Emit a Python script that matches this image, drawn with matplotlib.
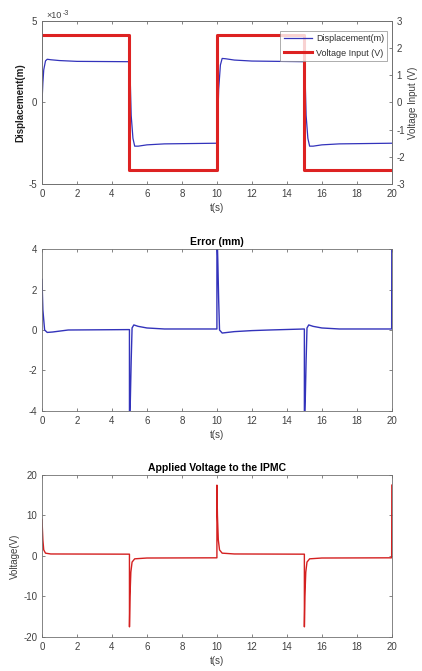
import matplotlib.pyplot as plt
from matplotlib.ticker import FuncFormatter

plt.rcParams['font.family'] = ['Liberation Sans', 'DejaVu Sans']
plt.rcParams['font.size'] = 7
plt.rcParams['axes.unicode_minus'] = False

# displacement response (m x 1e-3)
t_disp = [0, 0.05, 0.1, 0.2, 0.3, 0.5, 1, 2, 5,
          5.05, 5.1, 5.2, 5.3, 5.5, 6, 7, 10,
          10.05, 10.1, 10.2, 10.3, 10.5, 11, 12, 15,
          15.05, 15.1, 15.2, 15.3, 15.5, 16, 17, 20]
disp_mm = [0, 1.2, 2.0, 2.55, 2.65, 2.62, 2.57, 2.52, 2.5,
           1.2, -0.8, -2.2, -2.68, -2.68, -2.6, -2.54, -2.5,
           -1.2, 0.8, 2.3, 2.7, 2.68, 2.6, 2.54, 2.5,
           1.2, -0.8, -2.2, -2.68, -2.68, -2.6, -2.54, -2.5]

# square voltage input (V)
t_in = [0, 5, 5, 10, 10, 15, 15, 20]
v_in = [2.5, 2.5, -2.5, -2.5, 2.5, 2.5, -2.5, -2.5]

# tracking error (mm)
t_err = [0, 0.05, 0.15, 0.3, 0.6, 1.5, 5,
         5.001, 5.05, 5.1, 5.15, 5.25, 5.5, 6, 7, 10,
         10.001, 10.05, 10.1, 10.15, 10.3, 10.6, 11, 12, 13, 15,
         15.001, 15.05, 15.1, 15.15, 15.25, 15.5, 16, 17, 19.99, 20]
err = [2.5, 1.0, 0.0, -0.12, -0.1, 0.0, 0.02,
       -5.0, -3.5, -1.5, 0.1, 0.25, 0.18, 0.1, 0.05, 0.05,
       5.0, 3.5, 1.5, 0.0, -0.15, -0.12, -0.08, -0.03, 0.0, 0.05,
       -5.0, -3.5, -1.5, 0.1, 0.25, 0.18, 0.1, 0.05, 0.05, 5.0]

# applied voltage to the IPMC (V)
t_v = [0, 0.05, 0.1, 0.2, 0.5, 5,
       5.001, 5.03, 5.08, 5.15, 5.3, 6, 10,
       10.001, 10.03, 10.08, 10.15, 10.3, 11, 15,
       15.001, 15.03, 15.08, 15.15, 15.3, 16, 19.99, 20]
v_ipmc = [9, 4, 1.5, 0.7, 0.5, 0.45,
          -17.5, -10, -4, -1.5, -0.7, -0.5, -0.45,
          17.5, 10, 4, 1.5, 0.7, 0.5, 0.45,
          -17.5, -10, -4, -1.5, -0.7, -0.5, -0.45, 17.5]

spine_c = '#707070'
tick_c = '#404040'


def style(ax):
    for s in ax.spines.values():
        s.set_color(spine_c)
        s.set_linewidth(0.6)
    ax.tick_params(direction='in', length=2.5, width=0.6, colors=spine_c,
                   labelcolor=tick_c, labelsize=7, top=True)
    ax.set_xlim(0, 20)
    ax.set_xticks(range(0, 21, 2))
    ax.set_xlabel('t(s)', color=tick_c, labelpad=3)


fig = plt.figure(figsize=(4.22, 6.71), dpi=100)

# top: displacement + voltage input
ax1 = fig.add_axes([0.0995, 0.7258, 0.829, 0.243])
style(ax1)
ax1.tick_params(right=False)
l1, = ax1.plot(t_disp, [d * 1e-3 for d in disp_mm],
               color='#3333bb', lw=0.9, label='Displacement(m)')
ax1.set_ylim(-5e-3, 5e-3)
ax1.set_yticks([-5e-3, 0, 5e-3])
ax1.yaxis.set_major_formatter(FuncFormatter(lambda v, p: f'{round(v * 1e3):d}'))
ax1.text(0.012, 1.005, '×10', transform=ax1.transAxes, fontsize=6.5,
         color=tick_c, ha='left', va='bottom')
ax1.text(0.058, 1.025, '-3', transform=ax1.transAxes, fontsize=5,
         color=tick_c, ha='left', va='bottom')
ax1.set_ylabel('Displacement(m)', fontweight='bold', color='#202020', labelpad=2)

ax2 = ax1.twinx()
l2, = ax2.plot(t_in, v_in, color='#dd2222', lw=2.2, label='Voltage Input (V)')
ax2.set_ylim(-3, 3)
ax2.set_yticks(range(-3, 4))
for s in ax2.spines.values():
    s.set_color(spine_c)
    s.set_linewidth(0.6)
ax2.tick_params(direction='in', length=2.5, width=0.6, colors=spine_c,
                labelcolor=tick_c, labelsize=7)
ax2.set_ylabel('Voltage Input (V)', color=tick_c, labelpad=2)
leg = ax2.legend(handles=[l1, l2], loc='upper right', fontsize=6.5,
                 frameon=True, fancybox=False, handlelength=3.2,
                 borderaxespad=0.3, labelspacing=0.6, borderpad=0.35,
                 handletextpad=0.4, bbox_to_anchor=(0.995, 0.955))
leg.get_frame().set_edgecolor('#888888')
leg.get_frame().set_linewidth(0.6)
for tx in leg.get_texts():
    tx.set_color('#303030')

# middle: error
ax3 = fig.add_axes([0.0995, 0.3875, 0.829, 0.2414])
style(ax3)
ax3.tick_params(right=True)
ax3.plot(t_err, err, color='#3333bb', lw=1.0)
ax3.set_ylim(-4, 4)
ax3.set_yticks([-4, -2, 0, 2, 4])
ax3.set_title('Error (mm)', fontweight='bold', fontsize=7.5, pad=3)

# bottom: applied voltage
ax4 = fig.add_axes([0.0995, 0.0507, 0.829, 0.2414])
style(ax4)
ax4.tick_params(right=True)
ax4.plot(t_v, v_ipmc, color='#d42020', lw=1.0)
ax4.set_ylim(-20, 20)
ax4.set_yticks([-20, -10, 0, 10, 20])
ax4.set_ylabel('Voltage(V)', color=tick_c, labelpad=2)
ax4.set_title('Applied Voltage to the IPMC', fontweight='bold', fontsize=7.5, pad=3)

fig.savefig('out.png', dpi=100)
